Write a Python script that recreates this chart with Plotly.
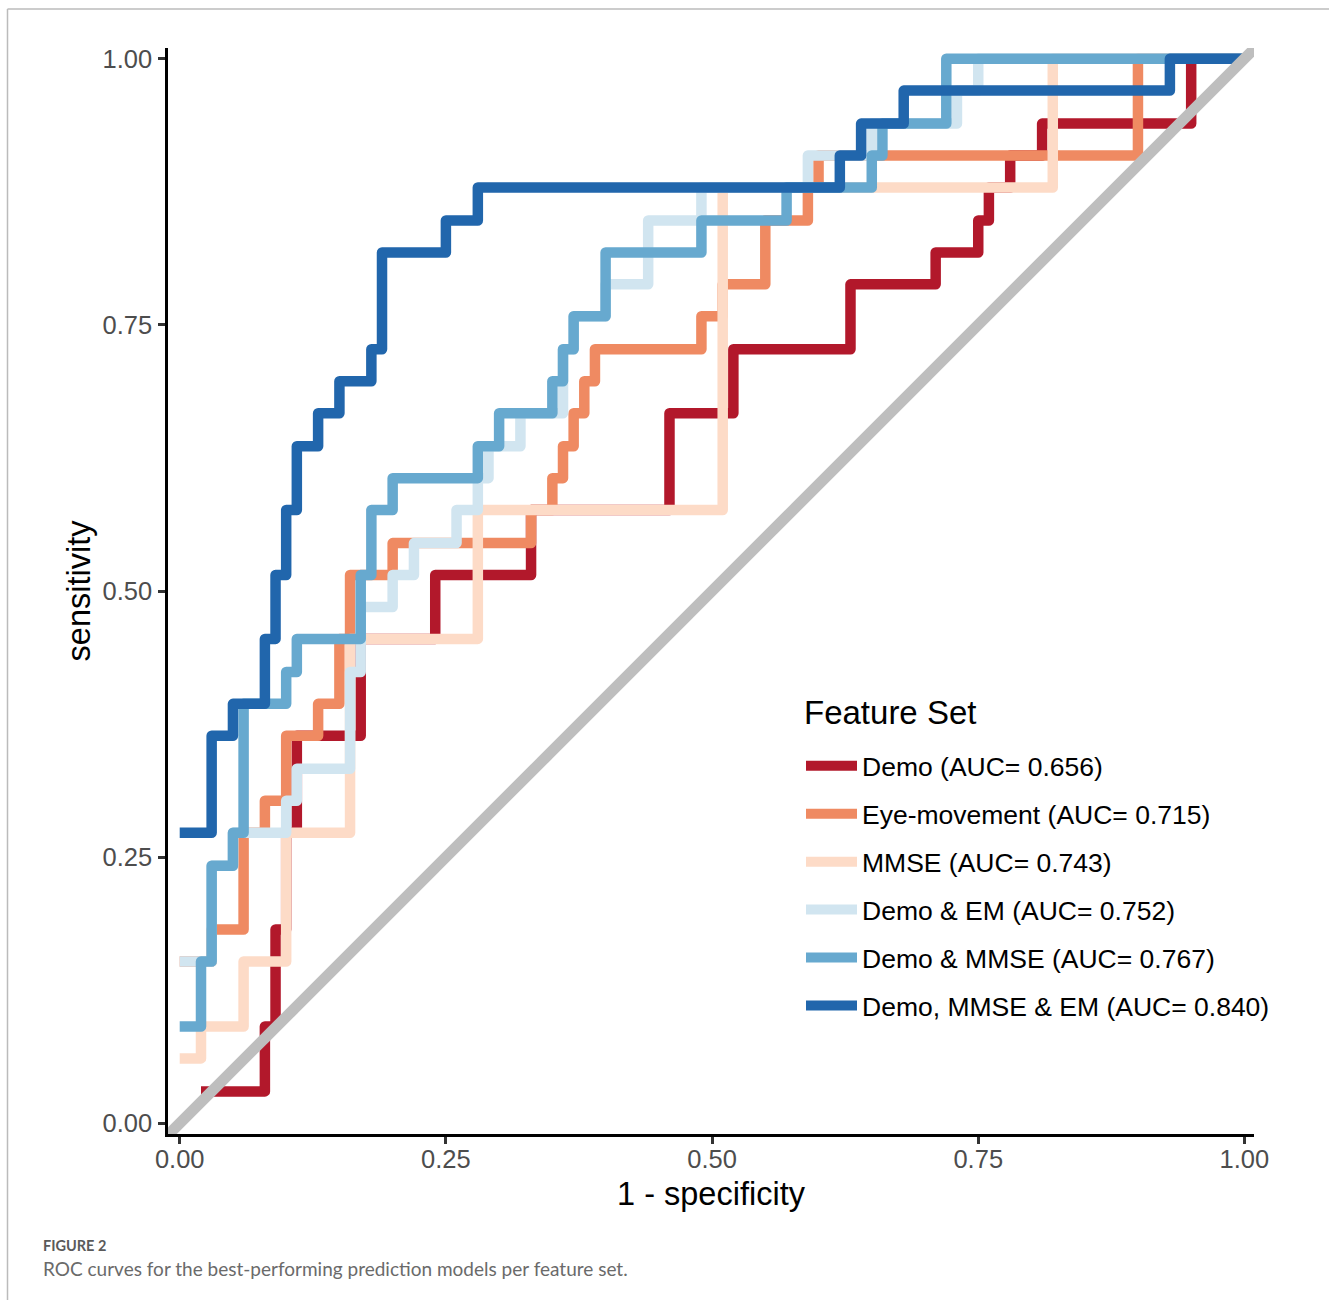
import plotly.graph_objects as go

# ---------------- data ----------------
labels = ["Demo (AUC= 0.656)", "Eye-movement (AUC= 0.715)", "MMSE (AUC= 0.743)",
          "Demo & EM (AUC= 0.752)", "Demo & MMSE (AUC= 0.767)", "Demo, MMSE & EM (AUC= 0.840)"]
colors = ["#B2182B", "#EF8A62", "#FDDBC7", "#D1E5F0", "#67A9CF", "#2166AC"]

demo_fpr = [0.02, 0.08, 0.09, 0.10, 0.11, 0.17, 0.24, 0.33, 0.46, 0.52, 0.63, 0.71, 0.75, 0.76, 0.78, 0.81, 0.95, 1.00]
demo_tpr = [0.030, 0.091, 0.182, 0.273, 0.364, 0.455, 0.515, 0.576, 0.667, 0.727, 0.788, 0.818, 0.848, 0.879, 0.909, 0.939, 1.000, 1.000]

em_fpr = [0.00, 0.03, 0.06, 0.08, 0.10, 0.13, 0.15, 0.16, 0.20, 0.33, 0.35, 0.36, 0.37, 0.38, 0.39, 0.49, 0.51, 0.55, 0.59, 0.60, 0.90, 1.00]
em_tpr = [0.152, 0.182, 0.273, 0.303, 0.364, 0.394, 0.455, 0.515, 0.545, 0.576, 0.606, 0.636, 0.667, 0.697, 0.727, 0.758, 0.788, 0.848, 0.879, 0.909, 1.000, 1.000]

mmse_fpr = [0.00, 0.02, 0.06, 0.10, 0.16, 0.28, 0.51, 0.82, 1.00]
mmse_tpr = [0.061, 0.091, 0.152, 0.273, 0.455, 0.576, 0.879, 1.000, 1.000]

demo_em_fpr = [0.00, 0.03, 0.05, 0.10, 0.11, 0.16, 0.17, 0.20, 0.22, 0.26, 0.28, 0.29, 0.32, 0.36, 0.37, 0.40, 0.44, 0.49, 0.59, 0.65, 0.73, 0.75, 1.00]
demo_em_tpr = [0.152, 0.242, 0.273, 0.303, 0.333, 0.424, 0.485, 0.515, 0.545, 0.576, 0.606, 0.636, 0.667, 0.727, 0.758, 0.788, 0.848, 0.879, 0.909, 0.939, 0.970, 1.000, 1.000]

demo_mmse_fpr = [0.00, 0.02, 0.03, 0.05, 0.06, 0.10, 0.11, 0.17, 0.18, 0.20, 0.28, 0.30, 0.35, 0.36, 0.37, 0.40, 0.49, 0.57, 0.65, 0.66, 0.72, 1.00]
demo_mmse_tpr = [0.091, 0.152, 0.242, 0.273, 0.394, 0.424, 0.455, 0.515, 0.576, 0.606, 0.636, 0.667, 0.697, 0.727, 0.758, 0.818, 0.848, 0.879, 0.909, 0.939, 1.000, 1.000]

all_fpr = [0.00, 0.03, 0.05, 0.08, 0.09, 0.10, 0.11, 0.13, 0.15, 0.18, 0.19, 0.25, 0.28, 0.62, 0.64, 0.68, 0.93, 1.00]
all_tpr = [0.273, 0.364, 0.394, 0.455, 0.515, 0.576, 0.636, 0.667, 0.697, 0.727, 0.818, 0.848, 0.879, 0.909, 0.939, 0.970, 1.000, 1.000]

curves = [(demo_fpr, demo_tpr), (em_fpr, em_tpr), (mmse_fpr, mmse_tpr),
          (demo_em_fpr, demo_em_tpr), (demo_mmse_fpr, demo_mmse_tpr), (all_fpr, all_tpr)]

tick_vals = [0.0, 0.25, 0.5, 0.75, 1.0]
tick_text = ["0.00", "0.25", "0.50", "0.75", "1.00"]
diag = [-0.05, 1.05]

# ---------------- figure ----------------
fig = go.Figure()
for i, ((fx, ty), name, col) in enumerate(zip(curves, labels, colors)):
    fig.add_trace(go.Scatter(
        x=fx, y=ty, mode="lines", name=name, legendgroup=f"g{i}",
        line=dict(color=col, width=10.5, shape="hv"),
    ))

fig.add_trace(go.Scatter(x=diag, y=diag, mode="lines", showlegend=False,
                         line=dict(color="#BEBEBE", width=11), hoverinfo="skip"))

L, R, T, B = 168, 75, 48, 166
W, H = 1329, 1300
pw, ph = W - L - R, H - T - B

def px(x):
    return (x - L) / pw

def py(y):
    return (H - B - y) / ph

FONT = "Liberation Sans, Arial"

def axis_style(standoff):
    return dict(
        showline=True, linecolor="black", linewidth=2.5, mirror=False,
        ticks="outside", ticklen=7, tickwidth=2.5, tickcolor="#333333",
        tickvals=tick_vals, ticktext=tick_text, showgrid=False, zeroline=False,
        tickfont=dict(family=FONT, size=25.5, color="#4D4D4D"),
        ticklabelstandoff=standoff,
    )

fig.update_layout(
    width=W, height=H, paper_bgcolor="white", plot_bgcolor="white",
    margin=dict(l=L, r=R, t=T, b=B, autoexpand=False),
    showlegend=True,
    xaxis=dict(range=[-0.011, 1.009], title=dict(text="1 - specificity",
               font=dict(family=FONT, size=32.5, color="black"), standoff=10),
               **axis_style(-6)),
    yaxis=dict(range=[-0.010, 1.010], title=dict(text="sensitivity",
               font=dict(family=FONT, size=32.5, color="black"), standoff=3),
               **axis_style(1)),
    legend=dict(
        font=dict(family=FONT, size=26.5, color="black"),
        x=px(801), y=py(742), xanchor="left", yanchor="top",
        traceorder="grouped", tracegroupgap=10.5, itemwidth=51,
        bgcolor="rgba(0,0,0,0)", borderwidth=0,
    ),
    shapes=[
        dict(type="line", xref="paper", yref="paper", x0=px(7.5), y0=py(9), x1=px(1329), y1=py(9),
             line=dict(color="#BBBBBB", width=1.5)),
        dict(type="line", xref="paper", yref="paper", x0=px(7.5), y0=py(9), x1=px(7.5), y1=py(1300),
             line=dict(color="#BBBBBB", width=1.5)),
    ],
    annotations=[
        dict(text="Feature Set", xref="paper", yref="paper", x=px(802), y=py(712),
             xanchor="left", yanchor="middle", showarrow=False,
             font=dict(family=FONT, size=33, color="black")),
        dict(text="<b>FIGURE 2</b>", xref="paper", yref="paper", x=px(41), y=py(1245),
             xanchor="left", yanchor="middle", showarrow=False,
             font=dict(family="Lato, Open Sans", size=14.5, color="#5A5A5A")),
        dict(text="ROC curves for the best-performing prediction models per feature set.",
             xref="paper", yref="paper", x=px(41), y=py(1268), xanchor="left", yanchor="middle",
             showarrow=False, font=dict(family="Lato, Open Sans", size=19, color="#6A6A6A")),
    ],
)

post = """
document.body.style.margin = '0';
document.querySelectorAll('.scatterlayer path.js-line').forEach(function(p){
  p.style.strokeLinejoin = 'round';
});
"""
fig.write_html("out.html", post_script=post, config={"displayModeBar": False})
